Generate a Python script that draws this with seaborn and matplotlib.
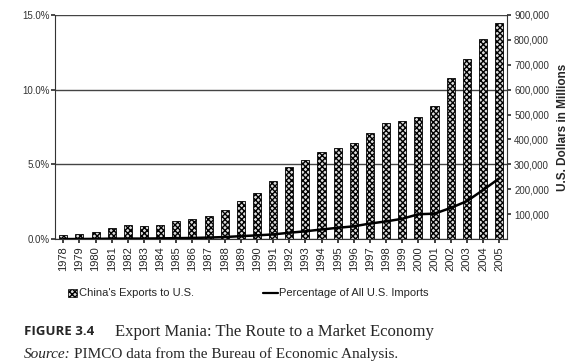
import numpy as np
import pandas as pd
import matplotlib
matplotlib.use("Agg")
import matplotlib.pyplot as plt
import seaborn as sns
from matplotlib.ticker import FuncFormatter

# data
years = [str(y) for y in range(1978, 2006)]
share_pct = [0.27, 0.33, 0.47, 0.74, 0.94, 0.89, 0.94, 1.2, 1.34, 1.56,
             1.94, 2.54, 3.1, 3.88, 4.8, 5.29, 5.85, 6.07, 6.4, 7.12,
             7.75, 7.92, 8.19, 8.9, 10.76, 12.05, 13.37, 14.49]
exports_musd = [300, 600, 1100, 2100, 2300, 2200, 3100, 3900, 4800, 6300,
                8500, 12000, 15200, 19000, 25700, 31500, 38800, 45500, 51500, 62600,
                71200, 81800, 100000, 102300, 125200, 152400, 196700, 243500]

df = pd.DataFrame({"Year": years, "Share": share_pct, "Exports": exports_musd})

sns.set_theme(style="white")
plt.rcParams["font.family"] = ["Liberation Sans", "DejaVu Sans"]
plt.rcParams["hatch.linewidth"] = 1.0

fig = plt.figure(figsize=(5.75, 3.64), dpi=100)
ax = fig.add_axes([0.096, 0.343, 0.786, 0.616])

sns.barplot(data=df, x="Year", y="Share", color="white", width=0.5,
            edgecolor="black", linewidth=0.6, ax=ax)
for p in ax.patches:
    p.set_hatch("xxxxxx")
    p.set_facecolor("#dddddd")

ax.set_ylim(0, 15)
ax.set_yticks([0, 5, 10, 15])
ax.yaxis.set_major_formatter(FuncFormatter(lambda v, _: f"{v:.1f}%"))
ax.yaxis.grid(True, color="#444444", linewidth=1.0)
ax.set_axisbelow(True)
ax.set_xlim(-0.5, len(years) - 0.5)
ax.set_xlabel("")
ax.set_ylabel("")
ax.tick_params(axis="y", labelsize=7, colors="#333333", length=3, left=True, pad=1)
ax.tick_params(axis="x", labelsize=8, rotation=90, length=3, bottom=True, pad=2)
for s in ["left", "bottom", "right"]:
    ax.spines[s].set_color("#333333")
    ax.spines[s].set_linewidth(0.8)
ax.spines["top"].set_visible(False)

ax2 = ax.twinx()
sns.lineplot(x=np.arange(len(years)), y=df["Exports"], color="black",
             linewidth=1.8, ax=ax2)
ax2.set_ylim(0, 900000)
ax2.set_yticks(range(100000, 900001, 100000))
ax2.yaxis.set_major_formatter(FuncFormatter(lambda v, _: f"{int(v):,}"))
ax2.tick_params(axis="y", labelsize=7, colors="#333333", length=3, right=True, pad=2)
ax2.set_ylabel("U.S. Dollars in Millions", fontsize=8.5, fontweight="bold", labelpad=6)
ax2.grid(False)
for s in ["left", "bottom", "right", "top"]:
    ax2.spines[s].set_visible(False)

# legend row
fig.patches.append(plt.Rectangle((0.118, 0.183), 0.016, 0.022, transform=fig.transFigure,
                                 facecolor="#dddddd", edgecolor="black", hatch="xxxxxx",
                                 linewidth=0.5))
fig.text(0.138, 0.194, "China's Exports to U.S.", fontsize=8, va="center")
fig.lines.append(plt.Line2D([0.457, 0.483], [0.194, 0.194], transform=fig.transFigure,
                            color="black", linewidth=1.6))
fig.text(0.486, 0.194, "Percentage of All U.S. Imports", fontsize=8, va="center")

# caption
serif = ["Liberation Serif", "DejaVu Serif"]
fig.text(0.042, 0.088, "FIGURE 3.4", fontsize=9.5, fontweight="bold", va="center",
         family=["Open Sans", "DejaVu Sans"])
fig.text(0.2, 0.088, "Export Mania: The Route to a Market Economy", fontsize=12,
         va="center", family=serif)
fig.text(0.042, 0.027, "Source:", fontsize=11, style="italic", va="center", family=serif)
fig.text(0.128, 0.027, "PIMCO data from the Bureau of Economic Analysis.", fontsize=11,
         va="center", family=serif)

fig.savefig("out.png", dpi=100)
